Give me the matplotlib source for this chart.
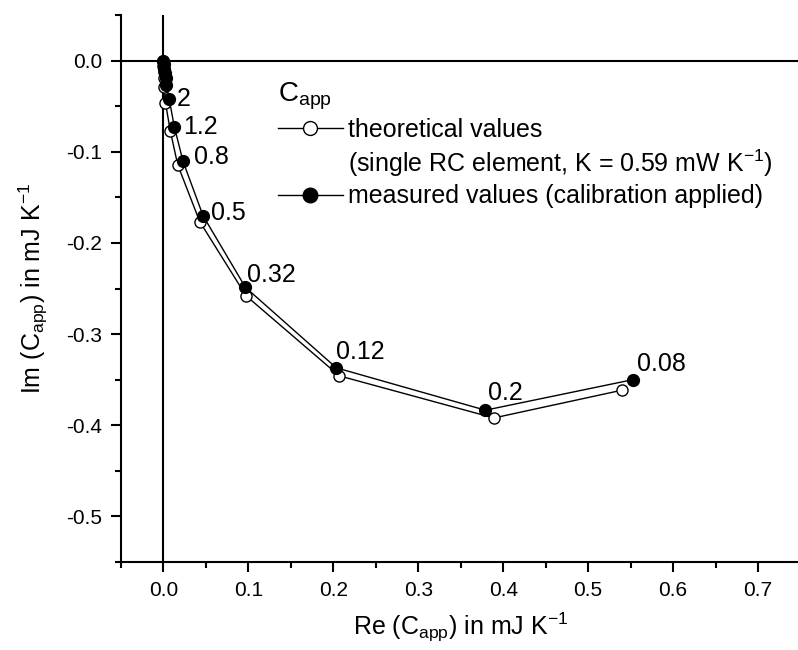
import matplotlib
matplotlib.use('Agg')
import matplotlib.pyplot as plt
from matplotlib.lines import Line2D
from matplotlib.ticker import MultipleLocator

plt.rcParams['font.family'] = ['Liberation Sans', 'DejaVu Sans']
plt.rcParams['mathtext.fontset'] = 'custom'
plt.rcParams['mathtext.rm'] = 'Liberation Sans'
plt.rcParams['mathtext.it'] = 'Liberation Sans:italic'

# Complex heat capacity, real / imaginary part in mJ/K
theo_re = [0.0, 0.0, 0.0002, 0.0005, 0.001, 0.0024, 0.0082, 0.0168, 0.0427, 0.0973, 0.207, 0.389, 0.540]
theo_im = [0.0, -0.006, -0.012, -0.019, -0.029, -0.0465, -0.0777, -0.1143, -0.1766, -0.258, -0.3458, -0.392, -0.3615]

meas_re = [0.0, 0.0003, 0.0008, 0.0015, 0.0025, 0.0035, 0.0067, 0.0129, 0.0231, 0.0467, 0.0965, 0.2035, 0.379, 0.5526]
meas_im = [0.0, -0.004, -0.009, -0.014, -0.019, -0.0264, -0.042, -0.0729, -0.1106, -0.1703, -0.2487, -0.337, -0.3835, -0.350]

# frequency labels attached to the last measured points
freq_labels = ['2', '1.2', '0.8', '0.5', '0.32', '0.12', '0.2', '0.08']
label_offsets = [(8, 0), (9, 0), (11, 4), (8, 3), (2, 12), (0, 16), (3, 17), (4, 16)]

fig = plt.figure(figsize=(7.98, 6.5), dpi=100)
ax = fig.add_axes([0.1516, 0.1354, 0.8515, 0.8415])

ax.axhline(0, color='black', lw=1.5, zorder=1)
ax.axvline(0, color='black', lw=1.5, zorder=1)

ax.plot(theo_re, theo_im, '-o', color='black', lw=1.0, ms=8,
        mfc='white', mec='black', mew=1.0, zorder=3)
ax.plot(meas_re, meas_im, '-o', color='black', lw=1.0, ms=8.5,
        mfc='black', mec='black', zorder=4)

first = len(meas_re) - len(freq_labels)
for lab, (dx, dy), x, y in zip(freq_labels, label_offsets, meas_re[first:], meas_im[first:]):
    ax.annotate(lab, (x, y), xytext=(dx, dy), textcoords='offset pixels',
                ha='left', va='center', fontsize=18)

ax.set_xlim(-0.05, 0.75)
ax.set_ylim(-0.55, 0.05)
ax.xaxis.set_major_locator(MultipleLocator(0.1))
ax.xaxis.set_minor_locator(MultipleLocator(0.05))
ax.yaxis.set_major_locator(MultipleLocator(0.1))
ax.yaxis.set_minor_locator(MultipleLocator(0.05))
ax.xaxis.set_major_formatter(plt.FormatStrFormatter('%.1f'))
ax.yaxis.set_major_formatter(plt.FormatStrFormatter('%.1f'))

ax.spines['top'].set_visible(False)
ax.spines['right'].set_visible(False)
for s in ('left', 'bottom'):
    ax.spines[s].set_linewidth(1.5)
ax.tick_params(which='major', direction='out', length=7.5, width=1.5, labelsize=15, pad=6)
ax.tick_params(which='minor', direction='out', length=4.5, width=1.5)

ax.set_xlabel(r'Re (C$_{\mathrm{app}}$) in mJ K$^{\mathrm{-1}}$', fontsize=18, labelpad=8)
ax.set_ylabel(r'Im (C$_{\mathrm{app}}$) in mJ K$^{\mathrm{-1}}$', fontsize=18, labelpad=12)

handles = [
    Line2D([], [], color='black', lw=1.0, marker='o', ms=10, mfc='white', mec='black'),
    Line2D([], [], linestyle='none'),
    Line2D([], [], color='black', lw=1.0, marker='o', ms=10.5, mfc='black', mec='black'),
]
labels = ['theoretical values',
          r'(single RC element, K = 0.59 mW K$^{\mathrm{-1}}$)',
          'measured values (calibration applied)']
leg = ax.legend(handles, labels, title=r'C$_{\mathrm{app}}$', title_fontsize=20,
                loc='upper left', bbox_to_anchor=(0.231, 0.879), fontsize=18,
                frameon=False, borderpad=0, borderaxespad=0, handlelength=2.6,
                handletextpad=0.2, labelspacing=0.22, alignment='left')

fig.savefig('out.png', dpi=100)
